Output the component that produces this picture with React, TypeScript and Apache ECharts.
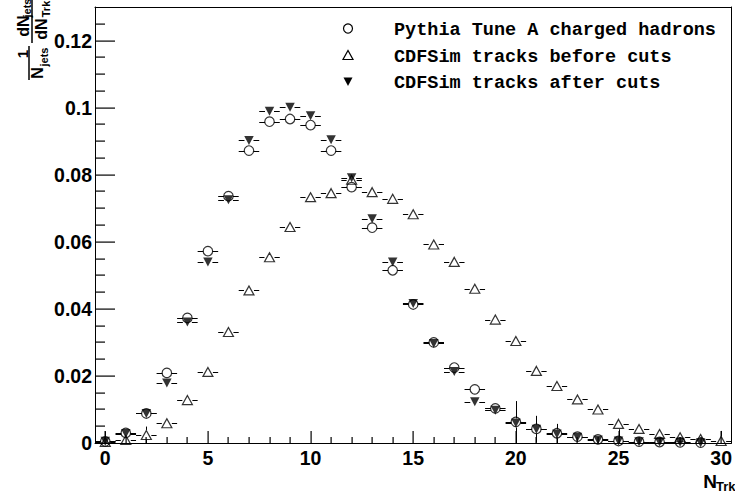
import React, { useEffect, useRef } from 'react';
import * as echarts from 'echarts';

// Track multiplicity bins
const nTrk = [
  0, 1, 2, 3, 4, 5, 6, 7, 8, 9, 10, 11, 12, 13, 14, 15,
  16, 17, 18, 19, 20, 21, 22, 23, 24, 25, 26, 27, 28, 29, 30,
];

// 1/N_jets dN_jets/dN_Trk
const pythiaTuneA = [
  0.0005, 0.003, 0.0088, 0.0209, 0.0373, 0.0572, 0.0736, 0.0872, 0.0958, 0.0966,
  0.0948, 0.0872, 0.0763, 0.0642, 0.0515, 0.0413, 0.03, 0.0225, 0.016, 0.0103,
  0.0063, 0.0042, 0.0029, 0.0019, 0.0011, 0.0006, 0.0004, 0.0003, 0.0002, 0.0001,
  null,
];
const cdfSimBefore = [
  0.0003, 0.0009, 0.0024, 0.0059, 0.0128, 0.0212, 0.0331, 0.0455, 0.0554, 0.0644,
  0.0733, 0.0745, 0.0785, 0.0748, 0.0728, 0.0682, 0.0592, 0.054, 0.046, 0.0368,
  0.0304, 0.0215, 0.017, 0.013, 0.01, 0.0057, 0.0042, 0.0027, 0.0017, 0.0012,
  0.0006,
];
const cdfSimAfter = [
  0.0005, 0.0028, 0.0088, 0.0179, 0.0361, 0.054, 0.0725, 0.0902, 0.0989, 0.1001,
  0.0976, 0.0904, 0.0791, 0.0669, 0.054, 0.0416, 0.0297, 0.0213, 0.0123, 0.0098,
  0.006, 0.0041, 0.0027, 0.0017, 0.0009, 0.0006, 0.0004, 0.0003, 0.0002, 0.0001,
  null,
];

// Vertical (statistical) errors; 0 = hidden behind the marker
const pythiaErr = [
  0, 0, 0, 0, 0, 0, 0, 0, 0, 0, 0, 0, 0, 0, 0, 0,
  0, 0, 0, 0, 0, 0, 0, 0, 0, 0, 0, 0, 0, 0, 0,
];
const beforeErr = [
  0, 0, 0.0025, 0, 0, 0, 0, 0, 0, 0, 0, 0, 0, 0, 0, 0,
  0, 0, 0, 0, 0, 0, 0, 0, 0, 0, 0, 0, 0, 0, 0.003,
];
const afterErr = [
  0.003, 0, 0, 0, 0, 0, 0, 0, 0, 0, 0, 0, 0, 0, 0, 0,
  0, 0, 0, 0, 0.0065, 0.004, 0.003, 0, 0, 0.0035, 0, 0, 0, 0, 0,
];

const legendNames = [
  'Pythia Tune A charged hadrons',
  'CDFSim tracks before cuts',
  'CDFSim tracks after cuts',
];

// Tick positions (ROOT style: ticks inside the frame, bottom and left only)
const xMajorTicks = [0, 5, 10, 15, 20, 25, 30];
const xMinorTicks = [
  1, 2, 3, 4, 6, 7, 8, 9, 11, 12, 13, 14, 16, 17, 18, 19, 21, 22, 23, 24, 26, 27, 28, 29,
];
const yMajorTicks = [0, 0.02, 0.04, 0.06, 0.08, 0.1, 0.12];
const yMinorTicks = [
  0.005, 0.01, 0.015, 0.025, 0.03, 0.035, 0.045, 0.05, 0.055, 0.065, 0.07, 0.075,
  0.085, 0.09, 0.095, 0.105, 0.11, 0.115, 0.125,
];
const xRange = [-0.5, 30.5];
const yRange = [0, 0.13];

const downTriangle = 'path://M0,0L10,0L5,9Z';

type Vals = (number | null)[];

function points(vals: Vals, errs: number[]) {
  const out: number[][] = [];
  nTrk.forEach((x, i) => {
    const v = vals[i];
    if (v !== null && v !== undefined) out.push([x, v, errs[i]]);
  });
  return out;
}

const lineStyle = { stroke: '#000', lineWidth: 1, fill: 'none' };

function errorBars(gap: number) {
  return (_params: any, api: any) => {
    const x = api.value(0);
    const y = api.value(1);
    const e = api.value(2);
    const c = api.coord([x, y]);
    const l = api.coord([x - 0.5, y]);
    const r = api.coord([x + 0.5, y]);
    const cy = Math.round(c[1]) + 0.5;
    const cx = Math.round(c[0]) + 0.5;
    const children: any[] = [
      { type: 'line', shape: { x1: l[0], y1: cy, x2: c[0] - gap, y2: cy }, style: lineStyle },
      { type: 'line', shape: { x1: c[0] + gap, y1: cy, x2: r[0], y2: cy }, style: lineStyle },
    ];
    if (e > 0) {
      const top = api.coord([x, y + e])[1];
      const bot = api.coord([x, y - e])[1];
      if (c[1] - gap > top) {
        children.push({ type: 'line', shape: { x1: cx, y1: top, x2: cx, y2: c[1] - gap }, style: lineStyle });
      }
      if (bot > c[1] + gap) {
        children.push({ type: 'line', shape: { x1: cx, y1: c[1] + gap, x2: cx, y2: bot }, style: lineStyle });
      }
    }
    return { type: 'group', children };
  };
}

const axisFont = { fontFamily: '"Liberation Sans", Arial, sans-serif', fontWeight: 'bold' as const };
const titleFont = '"Liberation Sans", Arial, sans-serif';
const legendFont = 'bold 18.5px "Liberation Mono", "Courier New", monospace';

function txt(text: string, x: number, y: number, size: number, align = 'center') {
  return {
    type: 'text',
    x,
    y,
    style: {
      text,
      fontSize: size,
      fontWeight: 'bold',
      fontFamily: titleFont,
      fill: '#000',
      align,
      textAlign: align,
      verticalAlign: 'middle',
      textVerticalAlign: 'middle',
    },
  };
}

const frameAxis = {
  axisLine: { show: true, onZero: false, lineStyle: { color: '#000', width: 1 } },
  axisTick: { show: false },
  axisLabel: { show: false },
  splitLine: { show: false },
};

// Tick mark as a thin polygon strip (rendered as a filled shape)
function bar(x1: number, y1: number, x2: number, y2: number) {
  const minX = Math.min(x1, x2);
  const maxX = Math.max(x1, x2);
  const minY = Math.min(y1, y2);
  const maxY = Math.max(y1, y2);
  return {
    type: 'polygon',
    z: 100,
    shape: {
      points: [
        [minX, minY],
        [maxX === minX ? maxX + 1.2 : maxX, minY],
        [maxX === minX ? maxX + 1.2 : maxX, maxY === minY ? maxY + 1.2 : maxY],
        [minX, maxY === minY ? maxY + 1.2 : maxY],
      ],
    },
    style: { fill: '#000' },
  };
}

const staticGraphic: any[] = [
  {
    type: 'circle',
    shape: { cx: 348, cy: 28.5, r: 4.5 },
    style: { fill: 'none', stroke: '#000', lineWidth: 1.2 },
  },
  {
    type: 'polygon',
    shape: { points: [[343, 59.5], [353, 59.5], [348, 50.5]] },
    style: { fill: 'none', stroke: '#000', lineWidth: 1.2 },
  },
  {
    type: 'polygon',
    shape: { points: [[343.5, 77.5], [352.5, 77.5], [348, 86]] },
    style: { fill: '#000' },
  },
  ...legendNames.map((name, i) => ({
    type: 'text',
    x: 394,
    y: 30.5 + i * 26.7,
    style: {
      text: name,
      font: legendFont,
      fill: '#000',
      align: 'left',
      textAlign: 'left',
      verticalAlign: 'middle',
      textVerticalAlign: 'middle',
    },
  })),
  txt('N', 717, 481.5, 19, 'right'),
  txt('Trk', 716, 486, 13, 'left'),
  {
    type: 'group',
    x: 0,
    y: 84,
    rotation: Math.PI / 2,
    children: [
      txt('1', 30, 22, 15),
      {
        type: 'line',
        shape: { x1: 4, y1: 29, x2: 38, y2: 29 },
        style: { stroke: '#000', lineWidth: 1.5 },
      },
      txt('N', 11, 37, 16),
      txt('jets', 27, 44, 11),
      txt('dN', 58, 23, 16),
      txt('jets', 76, 27, 11),
      {
        type: 'line',
        shape: { x1: 41, y1: 32, x2: 84, y2: 32 },
        style: { stroke: '#000', lineWidth: 1.5 },
      },
      txt('dN', 55, 41, 16),
      txt('Trk', 75, 45.5, 11),
    ],
  },
];

export default function App() {
  const ref = useRef<HTMLDivElement>(null);

  useEffect(() => {
    if (!ref.current) return;
    const chart = echarts.init(ref.current, undefined, { renderer: 'svg' });

    const hollow = { color: 'transparent', borderColor: '#000', borderWidth: 1.2 };

    chart.setOption({
      animation: false,
      backgroundColor: '#fff',
      grid: { left: 95, right: 2, top: 7, bottom: 53, show: false },
      xAxis: [
        {
          type: 'value',
          position: 'bottom',
          min: xRange[0],
          max: xRange[1],
          splitNumber: 5,
          axisLine: { show: true, onZero: false, lineStyle: { color: '#000', width: 1 } },
          axisTick: { show: false },
          minorTick: { show: false },
          splitLine: { show: false },
          axisLabel: {
            ...axisFont,
            fontSize: 19.5,
            color: '#000',
            margin: 5,
            showMinLabel: false,
            showMaxLabel: false,
          },
        },
        { type: 'value', position: 'top', min: xRange[0], max: xRange[1], ...frameAxis },
      ],
      yAxis: [
        {
          type: 'value',
          position: 'left',
          min: yRange[0],
          max: yRange[1],
          interval: 0.02,
          axisLine: { show: true, onZero: false, lineStyle: { color: '#000', width: 1 } },
          axisTick: { show: false },
          minorTick: { show: false },
          splitLine: { show: false },
          axisLabel: {
            ...axisFont,
            fontSize: 19.5,
            color: '#000',
            margin: 3,
            showMaxLabel: false,
          },
        },
        { type: 'value', position: 'right', min: yRange[0], max: yRange[1], ...frameAxis },
      ],
      series: [
        {
          type: 'custom',
          name: 'pythia-err',
          renderItem: errorBars(4.5),
          data: points(pythiaTuneA, pythiaErr),
          clip: true,
          silent: true,
          z: 1,
        },
        {
          type: 'custom',
          name: 'before-err',
          renderItem: errorBars(5),
          data: points(cdfSimBefore, beforeErr),
          clip: true,
          silent: true,
          z: 1,
        },
        {
          type: 'custom',
          name: 'after-err',
          renderItem: errorBars(4.5),
          data: points(cdfSimAfter, afterErr),
          clip: true,
          silent: true,
          z: 1,
        },
        {
          type: 'scatter',
          name: legendNames[0],
          symbol: 'circle',
          symbolSize: 9.5,
          itemStyle: hollow,
          data: points(pythiaTuneA, pythiaErr).map((p) => [p[0], p[1]]),
          clip: true,
          z: 3,
        },
        {
          type: 'scatter',
          name: legendNames[1],
          symbol: 'triangle',
          symbolSize: [10, 9],
          itemStyle: hollow,
          data: points(cdfSimBefore, beforeErr).map((p) => [p[0], p[1]]),
          clip: true,
          z: 3,
        },
        {
          type: 'scatter',
          name: legendNames[2],
          symbol: downTriangle,
          symbolSize: [9.5, 9],
          symbolKeepAspect: false,
          itemStyle: { color: '#000' },
          data: points(cdfSimAfter, afterErr).map((p) => [p[0], p[1]]),
          clip: true,
          z: 4,
        },
      ],
      graphic: staticGraphic,
    });

    // Inside ticks along the bottom and left edges, positioned through the axis scales
    const toPx = (v: number) => Number(chart.convertToPixel({ xAxisIndex: 0 }, v));
    const toPy = (v: number) => Number(chart.convertToPixel({ yAxisIndex: 0 }, v));
    const left = toPx(xRange[0]);
    const bottom = toPy(yRange[0]);
    const tickEls: any[] = [];
    const xT = (v: number, len: number) => {
      const x = Math.round(toPx(v)) - 0.5;
      tickEls.push(bar(x, bottom - len, x, bottom));
    };
    const yT = (v: number, len: number) => {
      const y = Math.round(toPy(v)) - 0.5;
      tickEls.push(bar(left, y, left + len, y));
    };
    xMajorTicks.forEach((v) => xT(v, 12));
    xMinorTicks.forEach((v) => xT(v, 6));
    yMajorTicks.forEach((v) => yT(v, 20));
    yMinorTicks.forEach((v) => yT(v, 10));
    chart.setOption({ graphic: [...staticGraphic, ...tickEls] });

    return () => chart.dispose();
  }, []);

  return (
    <div
      ref={ref}
      style={{ position: 'fixed', left: 0, top: 0, width: 735, height: 496, background: '#fff' }}
    />
  );
}
